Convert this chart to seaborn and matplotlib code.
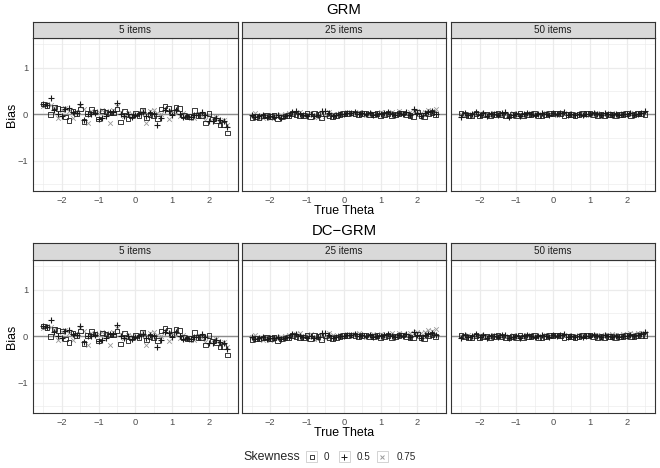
import matplotlib
matplotlib.use("Agg")
import matplotlib.pyplot as plt
from matplotlib.patches import Rectangle
import seaborn as sns

# theta grid of the simulation
theta = [-2.5, -2.4, -2.3, -2.2, -2.1, -2.0, -1.9, -1.8, -1.7, -1.6,
         -1.5, -1.4, -1.3, -1.2, -1.1, -1.0, -0.9, -0.8, -0.7, -0.6,
         -0.5, -0.4, -0.3, -0.2, -0.1, 0.0, 0.1, 0.2, 0.3, 0.4,
         0.5, 0.6, 0.7, 0.8, 0.9, 1.0, 1.1, 1.2, 1.3, 1.4,
         1.5, 1.6, 1.7, 1.8, 1.9, 2.0, 2.1, 2.2, 2.3, 2.4,
         2.5]

items_labels = ['5 items', '25 items', '50 items']
skew_labels = ['0', '0.5', '0.75']

# GRM, 5 items
grm5_s0 = [0.22, 0.19, 0.00, 0.16, 0.12, 0.11, -0.06, -0.13, 0.07, 0.02,
           0.11, -0.15, 0.02, 0.10, 0.05, -0.10, 0.07, 0.05, 0.03, 0.03,
           0.11, -0.17, 0.07, -0.10, -0.04, 0.01, -0.03, 0.08, -0.08, 0.00,
           -0.02, -0.09, 0.11, 0.18, 0.12, 0.05, 0.16, 0.12, -0.03, -0.06,
           -0.05, 0.08, -0.03, -0.02, -0.19, 0.02, -0.10, -0.13, -0.23, -0.22,
           -0.40]
grm5_s05 = [0.21, 0.20, 0.35, 0.09, 0.01, -0.03, 0.12, 0.14, 0.05, 0.03,
            0.22, -0.13, 0.00, 0.01, 0.03, -0.10, -0.09, -0.04, 0.04, 0.05,
            0.25, 0.01, -0.03, 0.00, -0.06, -0.02, 0.00, 0.05, -0.03, 0.02,
            0.00, -0.24, -0.08, 0.10, 0.06, -0.02, 0.10, 0.00, -0.05, -0.04,
            -0.06, -0.02, -0.01, 0.05, -0.02, -0.15, -0.14, -0.09, -0.13, -0.15,
            -0.28]
grm5_s075 = [0.18, 0.22, 0.20, 0.15, -0.08, 0.10, 0.13, 0.08, -0.08, 0.05,
             0.18, 0.12, -0.18, 0.06, 0.08, 0.04, 0.10, 0.08, -0.18, 0.10,
             0.18, 0.05, -0.04, 0.02, 0.00, -0.02, 0.02, 0.10, -0.18, 0.06,
             0.10, 0.03, 0.00, 0.12, -0.10, 0.08, 0.05, -0.04, 0.02, -0.03,
             -0.07, -0.08, 0.00, -0.04, -0.13, -0.02, -0.08, -0.06, -0.18, -0.12,
             -0.22]

# GRM, 25 items
grm25_s0 = [-0.08, -0.05, -0.07, -0.04, -0.03, -0.05, -0.03, -0.10, -0.06, -0.04,
            -0.02, 0.01, 0.00, -0.03, -0.02, 0.03, -0.05, 0.02, 0.00, -0.08,
            0.01, -0.04, -0.06, -0.03, -0.01, 0.02, 0.01, 0.03, 0.02, 0.00,
            0.01, 0.03, -0.01, 0.00, 0.01, -0.03, 0.00, 0.02, -0.02, 0.00,
            0.01, 0.03, 0.00, -0.02, -0.05, 0.05, -0.03, -0.06, 0.02, 0.04,
            0.00]
grm25_s05 = [-0.02, -0.06, -0.04, -0.02, -0.06, -0.03, -0.05, -0.02, -0.07, -0.03,
             -0.01, 0.04, 0.06, 0.00, -0.02, -0.04, 0.01, -0.03, -0.02, 0.07,
             0.06, 0.02, -0.03, -0.02, 0.00, 0.01, 0.03, 0.02, 0.04, 0.01,
             0.03, 0.00, 0.02, -0.01, 0.01, 0.00, 0.02, 0.04, 0.01, -0.01,
             0.03, 0.01, 0.04, -0.02, 0.12, 0.02, -0.04, 0.03, 0.05, 0.07,
             0.01]
grm25_s075 = [-0.03, 0.02, -0.05, -0.08, -0.03, -0.09, -0.02, -0.04, -0.02, 0.00,
              0.02, 0.00, 0.03, 0.05, -0.01, 0.01, 0.03, -0.06, -0.05, 0.02,
              -0.04, 0.05, 0.01, -0.01, 0.02, 0.00, 0.04, 0.00, 0.03, 0.05,
              0.02, -0.02, 0.01, 0.03, 0.00, 0.04, -0.01, 0.02, 0.05, 0.00,
              0.06, 0.02, 0.01, 0.04, 0.06, 0.08, 0.03, 0.05, 0.10, 0.08,
              0.12]

# GRM, 50 items
grm50_s0 = [0.03, 0.00, -0.03, -0.02, 0.01, -0.04, -0.01, 0.00, -0.02, -0.01,
            0.01, 0.00, -0.02, -0.04, 0.00, -0.03, 0.01, -0.02, 0.00, -0.01,
            0.01, -0.02, -0.03, -0.01, 0.02, 0.01, 0.03, 0.01, -0.02, 0.00,
            -0.01, -0.02, 0.00, 0.01, 0.02, 0.03, 0.00, -0.03, -0.01, -0.02,
            0.00, -0.01, -0.02, 0.00, -0.01, 0.01, -0.02, 0.00, 0.02, 0.01,
            0.00]
grm50_s05 = [-0.05, 0.02, -0.02, 0.00, 0.04, -0.01, 0.03, -0.03, 0.01, 0.00,
             -0.01, 0.02, 0.04, -0.05, -0.02, 0.01, -0.03, 0.00, 0.02, 0.01,
             -0.01, 0.00, 0.02, 0.00, -0.01, 0.03, 0.00, 0.02, 0.04, -0.01,
             0.00, -0.01, 0.01, -0.02, 0.00, 0.01, 0.03, 0.00, -0.01, 0.02,
             0.01, -0.01, 0.00, -0.02, 0.01, 0.00, 0.02, -0.01, 0.01, 0.03,
             0.07]
grm50_s075 = [0.01, -0.02, 0.01, -0.03, 0.00, 0.02, -0.02, 0.01, 0.00, 0.02,
              0.00, -0.01, 0.01, -0.02, 0.02, 0.00, 0.01, -0.01, 0.01, 0.02,
              0.00, 0.01, -0.01, 0.02, 0.00, 0.01, -0.01, 0.00, 0.01, 0.02,
              -0.01, 0.00, 0.01, 0.02, -0.01, 0.00, 0.01, 0.02, 0.00, 0.01,
              -0.01, 0.02, 0.01, 0.00, 0.02, 0.01, 0.03, 0.02, 0.01, 0.02,
              0.03]

# DC-GRM, 5 items (reads the same as GRM)
dc5_s0 = grm5_s0
dc5_s05 = grm5_s05
dc5_s075 = grm5_s075

# DC-GRM, 25 items
dc25_s0 = [-0.07, -0.05, -0.06, -0.04, -0.02, -0.05, -0.03, -0.09, -0.06, -0.04,
           -0.02, 0.01, 0.00, -0.03, -0.02, 0.03, -0.05, 0.02, 0.00, -0.07,
           0.01, -0.04, -0.05, -0.03, -0.01, 0.02, 0.01, 0.03, 0.02, 0.00,
           0.01, 0.03, -0.01, 0.00, 0.01, -0.03, 0.00, 0.02, -0.02, 0.00,
           0.01, 0.03, 0.00, -0.02, -0.04, 0.05, -0.03, -0.05, 0.02, 0.04,
           0.00]
dc25_s05 = [-0.02, -0.05, -0.04, -0.02, -0.05, -0.03, -0.04, -0.02, -0.06, -0.03,
            -0.01, 0.04, 0.05, 0.00, -0.02, -0.04, 0.01, -0.03, -0.02, 0.06,
            0.06, 0.02, -0.03, -0.02, 0.00, 0.01, 0.03, 0.02, 0.04, 0.01,
            0.03, 0.00, 0.02, -0.01, 0.01, 0.00, 0.02, 0.04, 0.01, -0.01,
            0.03, 0.01, 0.04, -0.02, 0.10, 0.02, -0.03, 0.03, 0.05, 0.07,
            0.02]
dc25_s075 = [-0.02, 0.02, -0.04, -0.07, -0.02, -0.08, -0.01, -0.03, -0.01, 0.01,
             0.03, 0.01, 0.04, 0.06, 0.00, 0.02, 0.04, -0.05, -0.04, 0.03,
             -0.03, 0.06, 0.02, 0.00, 0.03, 0.01, 0.05, 0.01, 0.04, 0.06,
             0.03, -0.01, 0.02, 0.04, 0.01, 0.05, 0.00, 0.03, 0.06, 0.02,
             0.07, 0.04, 0.03, 0.06, 0.08, 0.10, 0.06, 0.09, 0.14, 0.12,
             0.16]

# DC-GRM, 50 items
dc50_s0 = [0.03, 0.00, -0.03, -0.02, 0.01, -0.03, -0.01, 0.00, -0.02, -0.01,
           0.01, 0.00, -0.02, -0.03, 0.00, -0.03, 0.01, -0.02, 0.00, -0.01,
           0.01, -0.02, -0.02, -0.01, 0.02, 0.01, 0.03, 0.01, -0.02, 0.00,
           -0.01, -0.02, 0.00, 0.01, 0.02, 0.03, 0.00, -0.02, -0.01, -0.02,
           0.00, -0.01, -0.02, 0.00, -0.01, 0.01, -0.01, 0.00, 0.02, 0.01,
           0.01]
dc50_s05 = [-0.04, 0.02, -0.02, 0.00, 0.04, -0.01, 0.03, -0.03, 0.01, 0.00,
            -0.01, 0.02, 0.03, -0.04, -0.02, 0.01, -0.03, 0.00, 0.02, 0.01,
            -0.01, 0.00, 0.02, 0.00, -0.01, 0.03, 0.00, 0.02, 0.04, -0.01,
            0.00, -0.01, 0.01, -0.02, 0.00, 0.01, 0.03, 0.00, -0.01, 0.02,
            0.01, -0.01, 0.00, -0.02, 0.01, 0.01, 0.02, 0.00, 0.02, 0.04,
            0.10]
dc50_s075 = [0.01, -0.01, 0.02, -0.02, 0.01, 0.02, -0.01, 0.01, 0.00, 0.02,
             0.01, 0.00, 0.01, -0.01, 0.02, 0.01, 0.01, 0.00, 0.02, 0.02,
             0.01, 0.01, 0.00, 0.02, 0.01, 0.02, 0.00, 0.01, 0.02, 0.03,
             0.00, 0.01, 0.02, 0.03, 0.01, 0.02, 0.02, 0.03, 0.02, 0.03,
             0.02, 0.04, 0.03, 0.03, 0.05, 0.04, 0.06, 0.05, 0.06, 0.07,
             0.08]

panels = {
    'GRM': [(grm5_s0, grm5_s05, grm5_s075),
            (grm25_s0, grm25_s05, grm25_s075),
            (grm50_s0, grm50_s05, grm50_s075)],
    'DC\u2212GRM': [(dc5_s0, dc5_s05, dc5_s075),
                    (dc25_s0, dc25_s05, dc25_s075),
                    (dc50_s0, dc50_s05, dc50_s075)],
}

sns.set_style('white')
plt.rcParams['font.family'] = ['Liberation Sans', 'DejaVu Sans']

W, H = 660, 468
fig = plt.figure(figsize=(6.6, 4.68), dpi=100)


def box(x0, y0, x1, y1):
    # pixel box (top-left origin) -> figure fraction rect
    return [x0 / W, 1 - y1 / H, (x1 - x0) / W, (y1 - y0) / H]


col_x = [33.3, 241.7, 451.0]
col_w = 204.2
rows = [('GRM', 22, 38, 191), ('DC\u2212GRM', 243, 260, 413)]

dark = '#1a1a1a'
light = '#9a9a9a'

for model, y_strip, y_top, y_bot in rows:
    for j, lab in enumerate(items_labels):
        x0 = col_x[j]
        ax = fig.add_axes(box(x0, y_top, x0 + col_w, y_bot))
        s0, s05, s075 = panels[model][j]

        ax.axhline(0, color='#8c8c8c', lw=1.0, zorder=1)
        sns.scatterplot(x=theta, y=s075, marker='x', color=light, s=11,
                        linewidth=0.6, ax=ax, zorder=2)
        sns.scatterplot(x=theta, y=s05, marker='+', color=dark, s=24,
                        linewidth=0.8, ax=ax, zorder=3)
        sns.scatterplot(x=theta, y=s0, marker='s', color=dark, facecolor='none',
                        edgecolor=dark, s=11, linewidth=0.6, ax=ax, zorder=4)

        ax.set_xlim(-2.775, 2.775)
        ax.set_ylim(-1.645, 1.635)
        ax.set_xticks([-2, -1, 0, 1, 2])
        ax.set_xticks([-2.5, -1.5, -0.5, 0.5, 1.5, 2.5], minor=True)
        ax.set_yticks([-1, 0, 1])
        ax.set_yticks([-1.5, -0.5, 0.5, 1.5], minor=True)
        ax.grid(True, which='major', color='#EBEBEB', lw=0.9)
        ax.grid(True, which='minor', color='#EBEBEB', lw=0.45)
        ax.set_axisbelow(True)
        for sp in ax.spines.values():
            sp.set_color('#333333')
            sp.set_linewidth(0.8)
        ax.tick_params(which='major', length=2.2, width=0.5, color='#333333',
                       labelsize=6.7, labelcolor='#4D4D4D', pad=1.6)
        ax.tick_params(which='minor', length=0)
        if j > 0:
            ax.tick_params(axis='y', which='major', left=False, labelleft=False)
        ax.set_xlabel('')
        ax.set_ylabel('')

        sax = fig.add_axes(box(x0, y_strip, x0 + col_w, y_top))
        sax.set_facecolor('#D9D9D9')
        sax.set_xticks([])
        sax.set_yticks([])
        for sp in sax.spines.values():
            sp.set_color('#333333')
            sp.set_linewidth(0.8)
        sax.text(0.5, 0.5, lab, ha='center', va='center', fontsize=7.1,
                 color='#1A1A1A', transform=sax.transAxes)

    # row title, axis titles
    fig.text(344 / W, 1 - (y_strip - 12) / H, model, ha='center', va='center',
             fontsize=10.7, color='black')
    fig.text(344 / W, 1 - (y_bot + 20) / H, 'True Theta', ha='center', va='center',
             fontsize=8.9, color='black')
    fig.text(12 / W, 1 - ((y_top + y_bot) / 2) / H, 'Bias', ha='center', va='center',
             rotation=90, fontsize=8.9, color='black')

# legend drawn in pixel space at the bottom
lax = fig.add_axes(box(230, 444, 430, 468))
lax.set_xlim(230, 430)
lax.set_ylim(468, 444)
lax.axis('off')
yc = 456.5
lax.text(243, yc, 'Skewness', ha='left', va='center', fontsize=8.9)
key_x = [306.0, 338.5, 376.5]
key_style = [('s', dark, 3.0), ('+', dark, 4.5), ('x', light, 3.0)]
lab_x = [323.5, 356.5, 396.5]
for kx, (mk, c, ms), lx, t in zip(key_x, key_style, lab_x, skew_labels):
    lax.add_patch(Rectangle((kx, yc - 5.5), 11, 11, facecolor='white',
                            edgecolor='#cccccc', lw=0.6))
    if mk == 's':
        lax.plot([kx + 5.5], [yc], marker=mk, ms=ms, mfc='none', mec=c, mew=0.6)
    else:
        lax.plot([kx + 5.5], [yc], marker=mk, ms=ms, color=c, mew=0.7)
    lax.text(lx, yc, t, ha='left', va='center', fontsize=7.1)

fig.savefig('out.png', dpi=100)
